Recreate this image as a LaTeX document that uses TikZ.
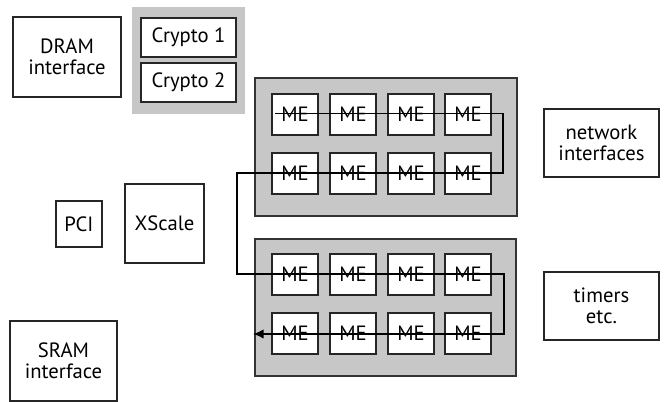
\documentclass[tikz,border=0pt]{standalone}
\usepackage{fontspec}
\setmainfont{PT Sans}
\usetikzlibrary{arrows.meta,calc}
\begin{document}
\begin{tikzpicture}[x=0.75pt,y=-0.75pt,
  box/.style={draw=black!85,line width=1.1pt,fill=white,inner sep=0pt,align=center,font=\fontsize{15.5}{16}\selectfont},
  grp/.style={fill=black!22,draw=black!80,line width=1.1pt},
  me/.style={box,minimum width=34.5pt,minimum height=30.5pt},
  flow/.style={draw=black,line width=1.1pt}]
\useasboundingbox (0,0) rectangle (667,402);
% DRAM
\node[box,minimum width=81pt,minimum height=60pt] (dram) at (67,57) {DRAM\\interface};
% crypto group
\fill[black!22] (132,7) rectangle (245,114);
\node[box,minimum width=71pt,minimum height=29pt] (c1) at (188.5,37.5) {Crypto 1};
\node[box,minimum width=71pt,minimum height=29pt] (c2) at (188.5,82.5) {Crypto 2};
% PCI, XScale, SRAM
\node[box,minimum width=34.5pt,minimum height=34.5pt] (pci) at (79,224) {PCI};
\node[box,minimum width=59pt,minimum height=59pt] (xs) at (164.5,223.5) {XScale};
\node[box,minimum width=80pt,minimum height=60pt] (sram) at (63.5,361) {SRAM\\interface};
% right boxes
\node[box,minimum width=86pt,minimum height=51pt] (net) at (601.5,143) {network\\interfaces};
\node[box,minimum width=86pt,minimum height=51pt] (tim) at (601.5,306) {timers\\etc.};
% ME groups
\draw[grp] (255,78) rectangle (517,216);
\draw[grp] (255,239) rectangle (516,376);
\foreach \c/\x in {1/295,2/353,3/411,4/468}{
  \node[me] (a\c) at (\x,114.5) {ME};
  \node[me] (b\c) at (\x,173.5) {ME};
  \node[me] (c\c) at (\x,274.5) {ME};
  \node[me] (d\c) at (\x,333.5) {ME};
}
\coordinate (s) at ($(a1.west)+(4,-1)$);
\coordinate (r1) at (503,113.5);
\coordinate (r2) at (503,173);
\coordinate (l1) at (237,173);
\coordinate (l2) at (237,274);
\coordinate (r3) at (504,274);
\coordinate (r4) at (504,334);
\coordinate (e) at (253,334);
\draw[flow,-{Latex[length=8pt,width=7pt]}] (s) -- (r1) -- (r2) -- (l1) -- (l2) -- (r3) -- (r4) -- (e);
\end{tikzpicture}
\end{document}
